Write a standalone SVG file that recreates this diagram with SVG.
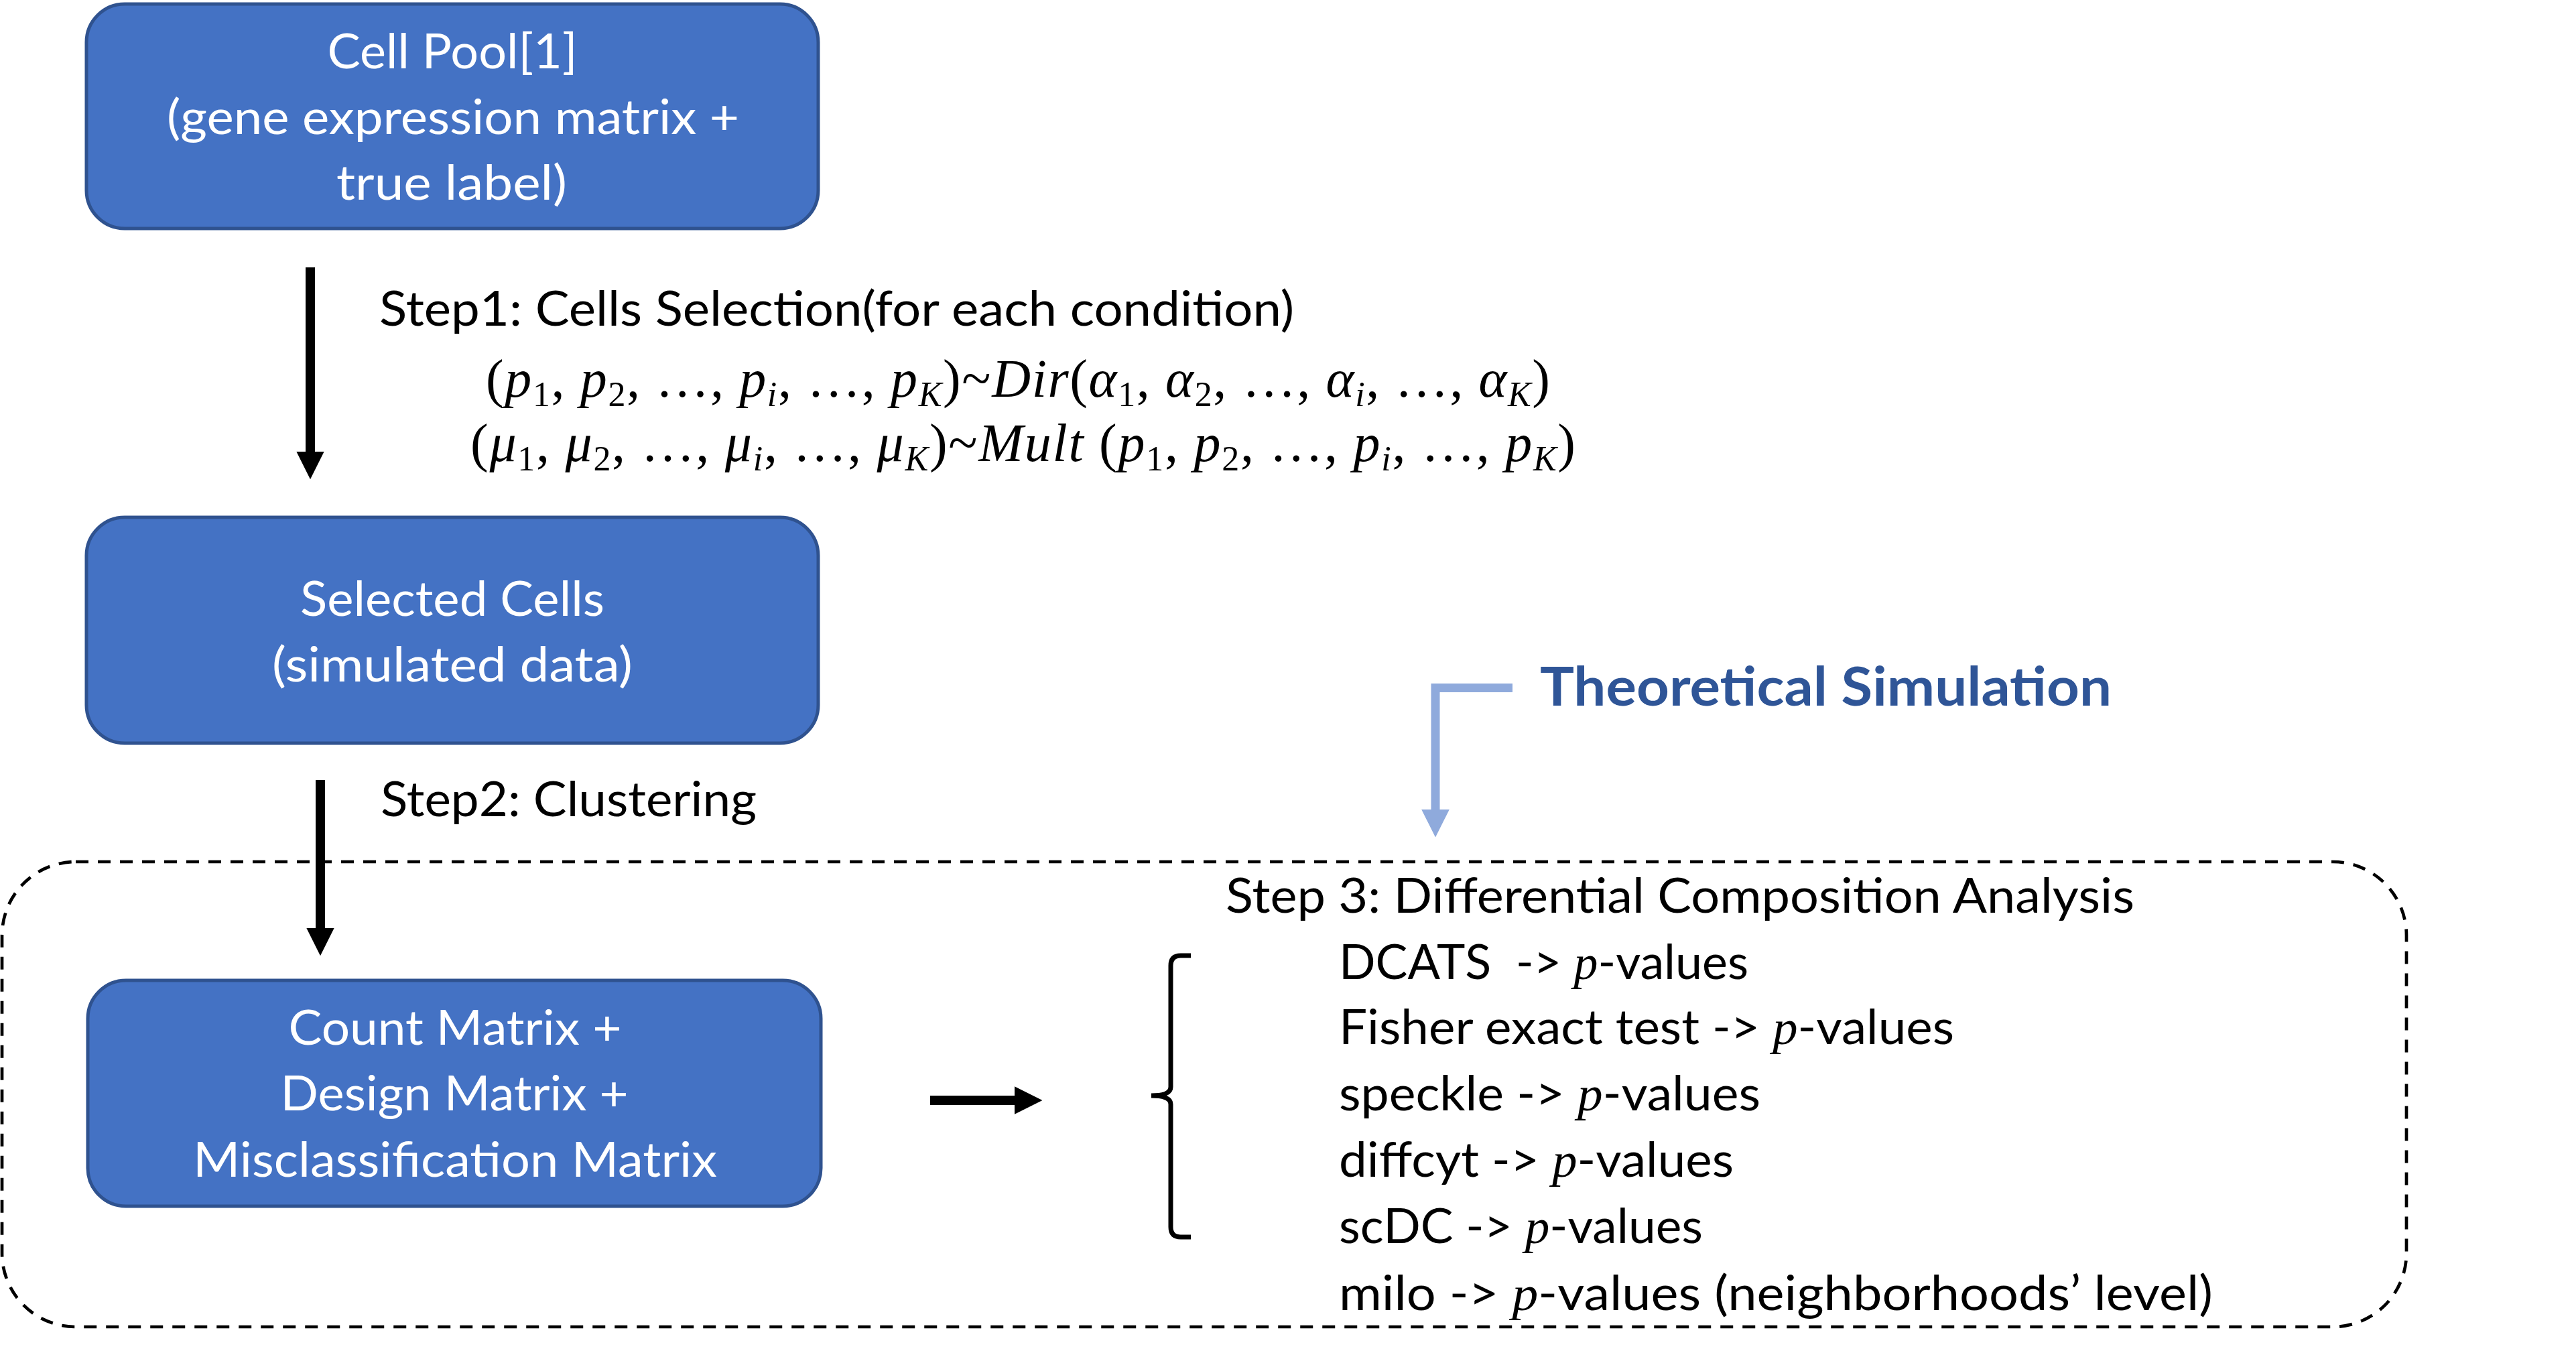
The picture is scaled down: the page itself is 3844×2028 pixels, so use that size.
<svg xmlns="http://www.w3.org/2000/svg" width="3844" height="2028" viewBox="0 0 3844 2028">
<style>
.box{fill:#4472C4;stroke:#2F528F;stroke-width:5}
.bt{font-family:Lato,'Open Sans',sans-serif;font-size:72px;fill:#fff;text-anchor:middle}
.t{font-family:Lato,'Open Sans',sans-serif;font-size:72px;fill:#000}
.ts{font-family:Lato,'Open Sans',sans-serif;font-size:80px;font-weight:bold;fill:#2F5597}
.m{font-family:'Liberation Serif','DejaVu Serif',serif;font-size:80px;fill:#000}
.mp{font-family:'Liberation Serif','DejaVu Serif',serif;font-style:italic}
.i{font-style:italic}
.s{font-size:52px}
.blk{fill:none;stroke:#000;stroke-width:14}
.blue{fill:none;stroke:#8FAADC;stroke-width:13;stroke-linejoin:miter}
</style>
<defs>
<marker id="ah" viewBox="0 0 10 10" refX="0" refY="5" markerWidth="2.95" markerHeight="2.95" orient="auto" markerUnits="strokeWidth"><path d="M0,0 L10,5 L0,10 Z" fill="#000"/></marker>
<marker id="ahb" viewBox="0 0 10 10" refX="0" refY="5" markerWidth="3.2" markerHeight="3.2" orient="auto" markerUnits="strokeWidth"><path d="M0,0 L10,5 L0,10 Z" fill="#8FAADC"/></marker>
</defs>

<g id="step3-frame">
<rect x="3" y="1286" width="3588" height="694" rx="110" ry="110" fill="none" stroke="#000" stroke-width="4.7" stroke-dasharray="19 14"/>
</g>

<g id="cell-pool">
<rect class="box" x="129" y="6" width="1092" height="335" rx="57" ry="57"/>
<text class="bt" x="675" y="102" textLength="373" lengthAdjust="spacingAndGlyphs">Cell Pool[1]</text>
<text class="bt" x="676" y="200" textLength="854" lengthAdjust="spacingAndGlyphs">(gene expression matrix +</text>
<text class="bt" x="674" y="298" textLength="344" lengthAdjust="spacingAndGlyphs">true label)</text>
</g>

<g id="selected-cells">
<rect class="box" x="129" y="772" width="1092" height="337" rx="57" ry="57"/>
<text class="bt" x="675" y="919" textLength="454" lengthAdjust="spacingAndGlyphs">Selected Cells</text>
<text class="bt" x="675" y="1017" textLength="538" lengthAdjust="spacingAndGlyphs">(simulated data)</text>
</g>

<g id="count-matrix">
<rect class="box" x="131" y="1463" width="1094" height="337" rx="57" ry="57"/>
<text class="bt" x="679" y="1559" textLength="497" lengthAdjust="spacingAndGlyphs">Count Matrix +</text>
<text class="bt" x="678" y="1657" textLength="519" lengthAdjust="spacingAndGlyphs">Design Matrix +</text>
<text class="bt" x="679" y="1756" textLength="782" lengthAdjust="spacingAndGlyphs">Misclassification Matrix</text>
</g>

<g id="step1-label">
<text class="t" x="566" y="486" textLength="1365" lengthAdjust="spacingAndGlyphs">Step1: Cells Selection(for each condition)</text>
<text class="m" x="725" y="592" textLength="1588" lengthAdjust="spacing">(<tspan class="i">p</tspan><tspan class="s" dy="14">1</tspan><tspan dy="-14">, </tspan><tspan class="i">p</tspan><tspan class="s" dy="14">2</tspan><tspan dy="-14">, …, </tspan><tspan class="i">p</tspan><tspan class="s i" dy="14">i</tspan><tspan dy="-14">, …, </tspan><tspan class="i">p</tspan><tspan class="s i" dy="14">K</tspan><tspan dy="-14">)~</tspan><tspan class="i">Dir</tspan>(<tspan class="i">α</tspan><tspan class="s" dy="14">1</tspan><tspan dy="-14">, </tspan><tspan class="i">α</tspan><tspan class="s" dy="14">2</tspan><tspan dy="-14">, …, </tspan><tspan class="i">α</tspan><tspan class="s i" dy="14">i</tspan><tspan dy="-14">, …, </tspan><tspan class="i">α</tspan><tspan class="s i" dy="14">K</tspan><tspan dy="-14">)</tspan></text>
<text class="m" x="702" y="688" textLength="1649" lengthAdjust="spacing">(<tspan class="i">μ</tspan><tspan class="s" dy="14">1</tspan><tspan dy="-14">, </tspan><tspan class="i">μ</tspan><tspan class="s" dy="14">2</tspan><tspan dy="-14">, …, </tspan><tspan class="i">μ</tspan><tspan class="s i" dy="14">i</tspan><tspan dy="-14">, …, </tspan><tspan class="i">μ</tspan><tspan class="s i" dy="14">K</tspan><tspan dy="-14">)~</tspan><tspan class="i">Mult</tspan> (<tspan class="i">p</tspan><tspan class="s" dy="14">1</tspan><tspan dy="-14">, </tspan><tspan class="i">p</tspan><tspan class="s" dy="14">2</tspan><tspan dy="-14">, …, </tspan><tspan class="i">p</tspan><tspan class="s i" dy="14">i</tspan><tspan dy="-14">, …, </tspan><tspan class="i">p</tspan><tspan class="s i" dy="14">K</tspan><tspan dy="-14">)</tspan></text>
</g>

<g id="step2-label">
<text class="t" x="568" y="1218" textLength="561" lengthAdjust="spacingAndGlyphs">Step2: Clustering</text>
</g>

<g id="theoretical-simulation">
<text class="ts" x="2298" y="1053" textLength="853" lengthAdjust="spacingAndGlyphs">Theoretical Simulation</text>
</g>

<g id="step3-methods">
<text class="t" x="1829" y="1362" textLength="1356" lengthAdjust="spacingAndGlyphs">Step 3: Differential Composition Analysis</text>
<text class="t" x="1998" y="1461" textLength="611" lengthAdjust="spacingAndGlyphs" xml:space="preserve">DCATS  -&gt; <tspan class="mp">p</tspan>-values</text>
<text class="t" x="1998" y="1558" textLength="918" lengthAdjust="spacingAndGlyphs">Fisher exact test -&gt; <tspan class="mp">p</tspan>-values</text>
<text class="t" x="1998" y="1657" textLength="629" lengthAdjust="spacingAndGlyphs">speckle -&gt; <tspan class="mp">p</tspan>-values</text>
<text class="t" x="1998" y="1756" textLength="589" lengthAdjust="spacingAndGlyphs">diffcyt -&gt; <tspan class="mp">p</tspan>-values</text>
<text class="t" x="1998" y="1855" textLength="543" lengthAdjust="spacingAndGlyphs">scDC -&gt; <tspan class="mp">p</tspan>-values</text>
<text class="t" x="1998" y="1955" textLength="1304" lengthAdjust="spacingAndGlyphs">milo -&gt; <tspan class="mp">p</tspan>-values (neighborhoods’ level)</text>
</g>

<g id="brace">
<path d="M1777,1426 H1762 Q1747,1426 1747,1441 V1622 Q1747,1635 1718,1635 Q1747,1635 1747,1648 V1831 Q1747,1846 1762,1846 H1777" fill="none" stroke="#000" stroke-width="7"/>
</g>

<g id="connectors">
<line class="blk" x1="463" y1="399" x2="463" y2="674" marker-end="url(#ah)"/>
<line class="blk" x1="478" y1="1164" x2="478" y2="1385" marker-end="url(#ah)"/>
<line class="blk" x1="1388" y1="1642" x2="1514" y2="1642" marker-end="url(#ah)"/>
<path class="blue" d="M2257,1026.5 H2142 V1208" marker-end="url(#ahb)"/>
</g>
</svg>
